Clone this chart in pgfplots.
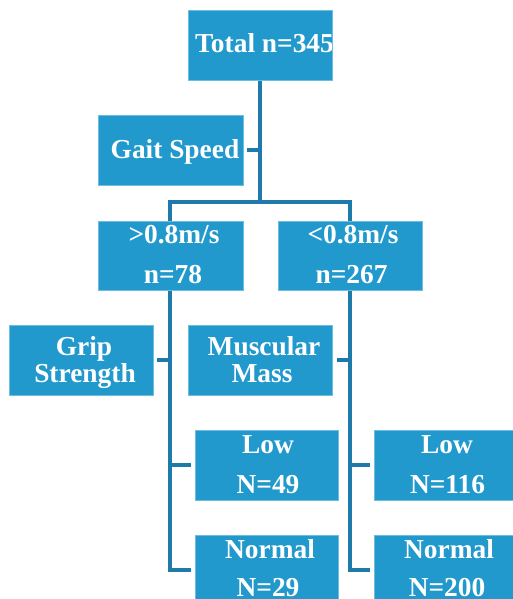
\documentclass[border=0pt]{standalone}
\usepackage{fontspec}
\setmainfont{Liberation Serif}
\usepackage{pgfplots}
\pgfplotsset{compat=1.18}
\definecolor{boxblue}{RGB}{33,153,204}
\definecolor{boxedge}{RGB}{110,190,225}
\definecolor{lineblue}{RGB}{30,122,170}
\tikzset{lbl/.style={text=white, font=\bfseries\fontsize{27.5}{33}\selectfont, anchor=base, inner sep=0pt}}
\begin{document}
\begin{tikzpicture}
\begin{axis}[
  width=513bp, height=599bp, scale only axis,
  xmin=0, xmax=513, ymin=0, ymax=599, y dir=reverse,
  hide axis, clip=true,
]
% connectors
\addplot[lineblue, line width=3.5bp, no marks] coordinates {(260,80) (260,202)};
\addplot[lineblue, line width=3.5bp, no marks] coordinates {(170,221) (170,202) (350,202) (350,221)};
\addplot[lineblue, line width=3.5bp, no marks] coordinates {(247,150) (260,150)};
\addplot[lineblue, line width=3.5bp, no marks] coordinates {(170,290) (170,570) (191,570)};
\addplot[lineblue, line width=3.5bp, no marks] coordinates {(350,290) (350,570) (370,570)};
\addplot[lineblue, line width=3.5bp, no marks] coordinates {(157,360) (170,360)};
\addplot[lineblue, line width=3.5bp, no marks] coordinates {(337,360) (350,360)};
\addplot[lineblue, line width=3.5bp, no marks] coordinates {(170,465) (191,465)};
\addplot[lineblue, line width=3.5bp, no marks] coordinates {(350,465) (370,465)};
% boxes
\addplot[draw=boxedge, line width=0.8bp, fill=boxblue] coordinates {(188,10) (332,10) (332,80) (188,80)} --cycle;
\addplot[draw=boxedge, line width=0.8bp, fill=boxblue] coordinates {(98,115) (243,115) (243,185) (98,185)} --cycle;
\addplot[draw=boxedge, line width=0.8bp, fill=boxblue] coordinates {(98,221) (243,221) (243,290) (98,290)} --cycle;
\addplot[draw=boxedge, line width=0.8bp, fill=boxblue] coordinates {(278,221) (422,221) (422,290) (278,290)} --cycle;
\addplot[draw=boxedge, line width=0.8bp, fill=boxblue] coordinates {(9,325) (153,325) (153,395) (9,395)} --cycle;
\addplot[draw=boxedge, line width=0.8bp, fill=boxblue] coordinates {(188,325) (332,325) (332,395) (188,395)} --cycle;
\addplot[draw=boxedge, line width=0.8bp, fill=boxblue] coordinates {(195,430) (338,430) (338,500) (195,500)} --cycle;
\addplot[draw=boxedge, line width=0.8bp, fill=boxblue] coordinates {(374,430) (520,430) (520,500) (374,500)} --cycle;
\addplot[draw=boxedge, line width=0.8bp, fill=boxblue] coordinates {(195,535) (338,535) (338,610) (195,610)} --cycle;
\addplot[draw=boxedge, line width=0.8bp, fill=boxblue] coordinates {(374,535) (520,535) (520,610) (374,610)} --cycle;
% texts
\begin{scope}
\clip (axis cs:188,10) rectangle (axis cs:331.6,80);
\node[lbl, anchor=base west] at (axis cs:195,53) {Total n=345};
\end{scope}
\node[lbl] at (axis cs:175,158) {Gait Speed};
\node[lbl] at (axis cs:174,243) {>0.8m/s};
\node[lbl] at (axis cs:173,283) {n=78};
\node[lbl] at (axis cs:353,243) {<0.8m/s};
\node[lbl] at (axis cs:351.5,283) {n=267};
\node[lbl] at (axis cs:84,355) {Grip};
\node[lbl] at (axis cs:85,382) {Strength};
\node[lbl] at (axis cs:264,355) {Muscular};
\node[lbl] at (axis cs:262,382) {Mass};
\node[lbl] at (axis cs:268,453) {Low};
\node[lbl] at (axis cs:268,493) {N=49};
\node[lbl] at (axis cs:447,453) {Low};
\node[lbl] at (axis cs:447.5,493) {N=116};
\node[lbl] at (axis cs:270,558) {Normal};
\node[lbl] at (axis cs:268,596) {N=29};
\node[lbl] at (axis cs:449,558) {Normal};
\node[lbl] at (axis cs:447,596) {N=200};
\end{axis}
\pgfresetboundingbox
\path[use as bounding box] (current axis.south west) rectangle (current axis.north east);
\end{tikzpicture}
\end{document}
